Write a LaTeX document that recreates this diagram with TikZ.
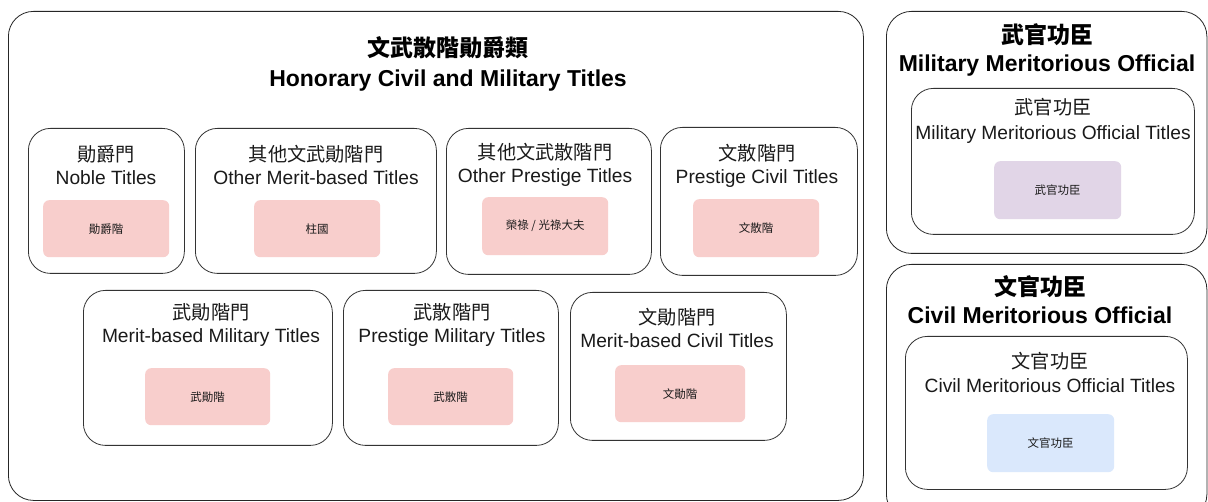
\documentclass[tikz,border=0pt]{standalone}
\usepackage{fontspec}
\setmainfont{Liberation Sans}
\newfontfamily\cjk{Noto Sans CJK TC}
\definecolor{pinkfill}{HTML}{F8CECC}
\definecolor{purplefill}{HTML}{E1D5E7}
\definecolor{bluefill}{HTML}{DAE8FC}
\definecolor{ink}{HTML}{1A1A1A}
\begin{document}
\begin{tikzpicture}[x=1pt,y=-1pt,
  group/.style={draw=black!85, line width=0.8pt, rounded corners=25pt, anchor=north west, inner sep=0pt},
  sub/.style={draw=black!80, line width=0.8pt, rounded corners=22pt, anchor=north west, inner sep=0pt},
  leaf/.style={draw=none, rounded corners=6pt, anchor=north west, inner sep=0pt, text=ink, font=\fontsize{11.5}{13}\selectfont\cjk},
  bigttl/.style={align=center, text=black, font=\fontsize{23}{30}\selectfont\bfseries, inner sep=0pt},
  ttl/.style={align=center, text=ink, font=\fontsize{19.2}{22.5}\selectfont, inner sep=0pt}
]
\useasboundingbox (0,0) rectangle (1208,502);
\fill[white] (0,0) rectangle (1208,502);

% main group
\node[group, minimum width=855pt, minimum height=489pt] (main) at (8,11) {};
\node[bigttl] (maint) at (448,64) {{\cjk 文武散階勛爵類}\\Honorary Civil and Military Titles};

% row 1
\node[sub, minimum width=156pt, minimum height=145pt] (noble) at (28,128) {};
\node[ttl] (noblet) at (106,165) {{\cjk 勛爵門}\\Noble Titles};
\node[leaf, fill=pinkfill, minimum width=126pt, minimum height=57pt] (noblel) at (43,200) {勛爵階};

\node[sub, minimum width=241pt, minimum height=145pt] (omerit) at (195,128) {};
\node[ttl] (omeritt) at (316,165) {{\cjk 其他文武勛階門}\\Other Merit-based Titles};
\node[leaf, fill=pinkfill, minimum width=126pt, minimum height=57pt] (omeritl) at (254,200) {柱國};

\node[sub, minimum width=205pt, minimum height=146pt] (oprest) at (446,128) {};
\node[ttl] (oprestt) at (545,165) {{\cjk 其他文武散階門}\\Other Prestige Titles};
\node[leaf, fill=pinkfill, minimum width=126pt, minimum height=58pt] (oprestl) at (482,197) {榮祿 / 光祿大夫};

\node[sub, minimum width=197pt, minimum height=148pt] (pcivil) at (660,127) {};
\node[ttl] (pcivilt) at (757,166) {{\cjk 文散階門}\\Prestige Civil Titles};
\node[leaf, fill=pinkfill, minimum width=126pt, minimum height=58pt] (pcivill) at (693,199) {文散階};

% row 2
\node[sub, minimum width=249pt, minimum height=155pt] (mmil) at (83,290) {};
\node[ttl] (mmilt) at (211,325) {{\cjk 武勛階門}\\Merit-based Military Titles};
\node[leaf, fill=pinkfill, minimum width=125pt, minimum height=57pt] (mmill) at (145,368) {武勛階};

\node[sub, minimum width=215pt, minimum height=155pt] (pmil) at (343,290) {};
\node[ttl] (pmilt) at (452,325) {{\cjk 武散階門}\\Prestige Military Titles};
\node[leaf, fill=pinkfill, minimum width=125pt, minimum height=57pt] (pmill) at (388,368) {武散階};

\node[sub, minimum width=216pt, minimum height=148pt] (mciv) at (570,292) {};
\node[ttl] (mcivt) at (677,328) {{\cjk 文勛階門}\\Merit-based Civil Titles};
\node[leaf, fill=pinkfill, minimum width=130pt, minimum height=57pt] (mcivl) at (615,365) {文勛階};

% right top group
\node[group, minimum width=320.5pt, minimum height=242pt] (milg) at (886,11) {};
\node[bigttl, font=\fontsize{23}{28}\selectfont\bfseries] (milgt) at (1047,50) {{\cjk 武官功臣}\\Military Meritorious Official};
\node[sub, minimum width=283pt, minimum height=146pt] (mils) at (911,88) {};
\node[ttl, font=\fontsize{19.2}{25}\selectfont] (milst) at (1053,121) {{\cjk 武官功臣}\\Military Meritorious Official Titles};
\node[leaf, fill=purplefill, minimum width=127pt, minimum height=58pt] (mill) at (994,161) {武官功臣};

% right bottom group
\node[group, minimum width=320.5pt, minimum height=255pt] (civg) at (886,264) {};
\node[bigttl, font=\fontsize{23}{28}\selectfont\bfseries] (civgt) at (1040,300) {{\cjk 文官功臣}\\Civil Meritorious Official};
\node[sub, minimum width=282pt, minimum height=153pt] (civs) at (905,336) {};
\node[ttl, font=\fontsize{19.2}{24}\selectfont] (civst) at (1050,372) {{\cjk 文官功臣}\\Civil Meritorious Official Titles};
\node[leaf, fill=bluefill, minimum width=127pt, minimum height=58pt] (civl) at (987,414) {文官功臣};
\end{tikzpicture}
\end{document}
